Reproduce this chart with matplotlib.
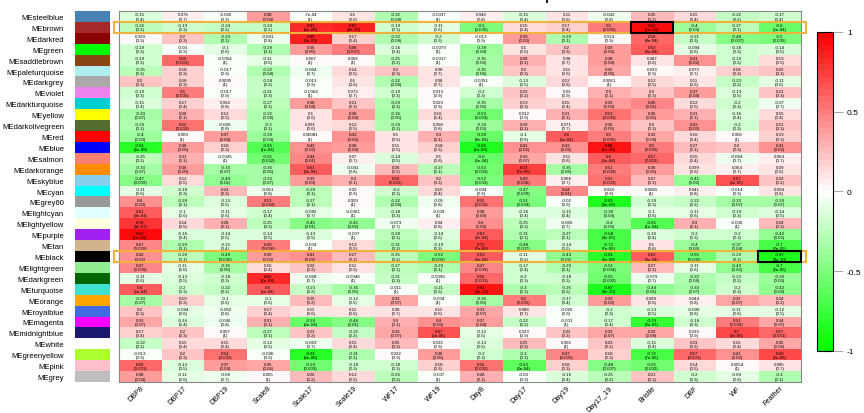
import numpy as np
import matplotlib
matplotlib.use('Agg')
import matplotlib.pyplot as plt
from matplotlib.colors import LinearSegmentedColormap
from matplotlib.patches import Rectangle
from math import lgamma

plt.rcParams['font.family'] = ['Liberation Sans', 'DejaVu Sans']

modules = ['steelblue', 'brown', 'darkred', 'green', 'saddlebrown', 'paleturquoise',
           'darkgrey', 'violet', 'darkturquoise', 'yellow', 'darkolivegreen', 'red',
           'blue', 'salmon', 'darkorange', 'skyblue', 'cyan', 'grey60', 'lightcyan',
           'lightyellow', 'purple', 'tan', 'black', 'lightgreen', 'darkgreen',
           'turquoise', 'orange', 'royalblue', 'magenta', 'midnightblue', 'white',
           'greenyellow', 'pink', 'grey']
# R colour names -> hex
module_hex = ['#4682B4', '#A52A2A', '#8B0000', '#00FF00', '#8B4513', '#AFEEEE',
              '#A9A9A9', '#EE82EE', '#00CED1', '#FFFF00', '#556B2F', '#FF0000',
              '#0000FF', '#FA8072', '#FF8C00', '#87CEEB', '#00FFFF', '#999999', '#E0FFFF',
              '#FFFFE0', '#A020F0', '#D2B48C', '#000000', '#90EE90', '#006400',
              '#40E0D0', '#FFA500', '#4169E1', '#FF00FF', '#191970', '#FFFFFF',
              '#ADFF2F', '#FFC0CB', '#BEBEBE']

traits = ['DBP8', 'DBP17', 'DBP19', 'Scale8', 'Scale17', 'Scale19', 'WF17', 'WF19',
          'Day8', 'Day17', 'Day19', 'Day17_19', 'Bristle', 'DBF', 'WF', 'Feather']

dbp8 = [-0.15, -0.26, 0.029, -0.19, -0.19, -0.25, 0.2, -0.19, -0.15, -0.33, -0.29, -0.4,
        -0.81, -0.25, -0.33, -0.47, -0.11, 0.4, 0.61, 0.78, 0.93, 0.47, 0.42, 0.47, -0.11,
        0.6, -0.33, 0.2, 0.33, 0.17, -0.22, -0.013, 0.56, 0.38]
dbp17 = [0.076, -0.19, 0.2, -0.03, 0.56, 0.18, 0.18, 0.5, 0.17, 0.28, 0.52, 0.009, 0.36,
         0.31, 0.36, 0.12, -0.18, -0.28, -0.1, 0.14, -0.16, -0.29, -0.28, -0.11, -0.13,
         -0.2, 0.19, -0.094, -0.16, 0.2, 0.15, 0.2, -0.13, -0.11]
dbp19 = [-0.026, -0.24, -0.29, -0.1, -0.0054, -0.017, 0.0035, -0.017, 0.054, 0.12, -0.049,
         0.37, 0.18, -0.0026, -0.33, -0.44, 0.24, -0.13, -0.11, 0.28, -0.14, -0.15, -0.49,
         -0.36, -0.18, -0.22, -0.1, -0.052, -0.046, 0.007, 0.15, 0.54, 0.37, -0.08]
scale8 = [0.38, -0.24, -0.041, -0.29, -0.11, -0.32, -0.24, -0.21, -0.27, -0.32, -0.3, -0.38,
          -0.65, -0.55, -0.36, -0.33, -0.051, 0.51, -0.17, -0.25, -0.14, 0.49, 0.39, 0.16,
          0.83, 0.6, -0.1, 0.17, 0.31, -0.27, -0.12, -0.036, 0.35, 0.005]
scale17 = [-0.0007, 0.81, 0.85, 0.36, 0.007, -0.064, -0.013, -0.0064, 0.38, 0.1, 0.091,
           0.00081, 0.42, 0.44, 0.61, 0.39, -0.28, -0.27, -0.082, -0.45, -0.13, -0.004, 0.41,
           0.22, -0.068, -0.23, 0.25, 0.11, -0.59, 0.23, -0.069, -0.81, -0.53, 0.26]
scale19 = [0.1, 0.87, 0.17, 0.48, 0.002, 0.14, 0.1, 0.072, 0.21, 0.38, 0.12, 0.43, 0.38,
           0.07, -0.041, 0.3, 0.02, 0.003, -0.0061, -0.41, -0.007, 0.13, 0.27, 0.11, -0.0046,
           -0.36, -0.12, 0.11, -0.46, -0.22, 0.15, -0.31, -0.18, 0.13]
wf17 = [-0.32, -0.19, -0.32, -0.16, -0.25, 0.2, -0.32, -0.19, -0.29, -0.36, -0.29, 0.1, 0.11,
        -0.14, 0.26, 0.56, -0.2, -0.32, -0.18, -0.073, -0.28, -0.31, -0.25, -0.27, -0.21,
        -0.011, 0.33, 0.08, 0.3, 0.33, 0.25, 0.022, -0.18, -0.26]
wf19 = [-0.0037, -0.11, -0.2, -0.0079, -0.0017, 0.08, 0.08, 0.013, 0.029, 0.16, 0.058, 0.3,
        0.18, 0.1, -0.27, 0.2, 0.15, -0.05, -0.009, 0.04, -0.14, -0.19, -0.52, -0.29, -0.0096,
        -0.21, -0.004, 0.11, 0.4, 0.67, 0.032, 0.36, 0.18, -0.007]
day8 = [0.046, -0.5, -0.013, -0.38, -0.35, -0.35, -0.0051, -0.2, -0.35, -0.53, -0.39, -0.58,
        -0.86, -0.6, -0.53, -0.52, -0.034, 0.55, 0.38, 0.4, 0.63, 0.72, 0.63, 0.47, 0.56, 0.91,
        -0.36, 0.33, 0.37, -0.12, -0.13, -0.2, 0.55, 0.28]
day17 = [-0.15, 0.15, 0.39, 0.1, 0.28, 0.2, -0.13, 0.23, 0.19, 0.012, 0.29, -0.1, 0.41, 0.33,
         0.72, 0.49, -0.47, -0.51, -0.16, -0.25, -0.31, -0.48, -0.11, -0.17, -0.2, -0.3, 0.5,
         0.086, -0.22, 0.023, 0.25, -0.3, -0.62, -0.03]
day19 = [0.11, 0.17, -0.29, 0.2, 0.08, 0.11, 0.12, 0.03, 0.15, 0.31, 0.071, 0.6, 0.43, 0.11,
         -0.35, 0.066, 0.44, -0.02, -0.15, -0.066, -0.27, -0.14, -0.43, -0.29, -0.18, -0.26,
         -0.17, -0.026, -0.001, 0.22, 0.003, 0.47, 0.18, -0.16]
day17_19 = [-0.043, 0.5, 0.014, 0.39, 0.38, 0.35, 0.0061, 0.3, 0.39, 0.53, 0.36, 0.5, 0.88,
            0.6, 0.51, 0.52, 0.024, -0.85, -0.38, -0.4, -0.68, -0.72, -0.81, -0.51, -0.55,
            -0.87, 0.39, -0.2, -0.17, 0.33, 0.23, 0.18, -0.48, -0.25]
bristle = [0.25, 0.93, 0.58, 0.62, 0.087, 0.033, 0.12, 0.2, 0.45, 0.36, 0.2, 0.32, 0.5, 0.57,
           0.36, 0.27, 0.0081, -0.19, -0.105, -0.65, -0.16, 0.1, 0.62, 0.27, -0.079, -0.44,
           0.099, -0.13, -0.79, 0.32, -0.15, -0.72, -0.55, 0.21]
dbf = [0.15, -0.4, -0.21, -0.094, 0.41, 0.073, 0.11, 0.37, 0.12, 0.31, 0.43, 0.16, 0.27, 0.15,
       0.099, -0.41, 0.041, -0.22, -0.11, 0.3, -0.2, -0.4, -0.55, -0.11, -0.32, -0.33, 0.044,
       -0.096, -0.18, 0.033, 0.23, 0.57, 0.14, -0.2]
wf = [-0.22, -0.27, -0.48, -0.18, -0.19, 0.18, -0.23, -0.13, -0.2, -0.16, -0.2, 0.006, 0.2,
      -0.064, 0.064, 0.67, -0.014, -0.33, -0.19, -0.006, -0.2, -0.37, -0.29, -0.43, -0.23,
      -0.2, 0.33, -0.11, 0.51, 0.7, 0.16, 0.41, 0.0054, -0.09]
feather = [-0.17, -0.6, -0.5, -0.14, 0.13, 0.22, -0.11, 0.21, -0.07, 0.15, 0.21, 0.19, 0.41,
           0.064, 0.09, 0.22, 0.094, -0.34, -0.14, 0.24, -0.42, -0.7, -0.87, -0.7, -0.39,
           -0.42, 0.24, -0.12, 0.34, 0.57, 0.35, 0.69, 0.085, -0.3]

n_samples = 30

cor = np.column_stack([dbp8, dbp17, dbp19, scale8, scale17, scale19, wf17, wf19, day8,
                       day17, day19, day17_19, bristle, dbf, wf, feather])


def cor_pvalue(r, n):
    # two-sided p-value of a Pearson correlation under the null
    grid = np.linspace(abs(r), 1, 4001)
    dens = (1 - grid ** 2) ** ((n - 4) / 2)
    beta = np.exp(lgamma(0.5) + lgamma((n - 2) / 2) - lgamma((n - 1) / 2))
    return min(1.0, 2 * np.trapezoid(dens, grid) / beta)


def r_signif(v, digits):
    # mimic R's as.character(signif(v, digits))
    v = float(f'{v:.{digits}g}')
    if v == 0:
        return '0'
    fixed = np.format_float_positional(v, trim='-')
    sci = np.format_float_scientific(v, trim='-', exp_digits=2)
    return fixed if len(fixed) <= len(sci) else sci


nrow, ncol = cor.shape

fig = plt.figure(figsize=(8.64, 4.14), dpi=100)

# heatmap
ax = fig.add_axes([0.1377, 0.0749, 0.7894, 0.8961])
cmap = LinearSegmentedColormap.from_list('gwr', ['#00FF00', '#FFFFFF', '#FF0000'], N=50)
im = ax.imshow(cor, cmap=cmap, vmin=-1, vmax=1, aspect='auto',
               extent=(0, ncol, nrow, 0), interpolation='nearest')
for i in range(nrow):
    for j in range(ncol):
        p = cor_pvalue(cor[i, j], n_samples)
        txt = r_signif(cor[i, j], 2) + '\n(' + r_signif(p, 1) + ')'
        ax.text(j + 0.5, i + 0.5, txt, ha='center', va='center', fontsize=3.2,
                linespacing=1.05, color='black')

ax.set_xlim(0, ncol)
ax.set_ylim(nrow, 0)
ax.set_xticks(np.arange(ncol) + 0.5)
ax.set_xticklabels(traits, rotation=45, ha='right', va='top', rotation_mode='anchor',
                   fontsize=5.2)
ax.tick_params(axis='x', length=0, pad=1.5)
ax.set_yticks([])
for s in ax.spines.values():
    s.set_color('#888888')
    s.set_linewidth(0.8)

# highlight rows and cells
for row in [1, 22]:
    ax.add_patch(Rectangle((-0.12, row), ncol + 0.24, 1, fill=False, ec='#F2B33D',
                           lw=1.5, clip_on=False, zorder=5))
for row, col in [(1, 12), (22, 15)]:
    ax.add_patch(Rectangle((col, row), 1, 1, fill=False, ec='black', lw=1.5,
                           clip_on=False, zorder=6))

# module colour swatches
sax = fig.add_axes([0.0868, 0.0749, 0.0394, 0.8961])
swatch = np.array([[matplotlib.colors.to_rgb(c)] for c in module_hex])
sax.imshow(swatch, aspect='auto', extent=(0, 1, nrow, 0), interpolation='nearest')
sax.set_xticks([])
sax.set_yticks(np.arange(nrow) + 0.5)
sax.set_yticklabels(['ME' + m for m in modules], fontsize=5.5)
sax.tick_params(axis='y', length=0, pad=8)
for s in sax.spines.values():
    s.set_visible(False)

# colour bar
cax = fig.add_axes([0.9456, 0.1498, 0.0185, 0.7705])
cb = fig.colorbar(im, cax=cax, ticks=[-1, -0.5, 0, 0.5, 1])
cb.ax.set_yticklabels(['-1', '-0.5', '0', '0.5', '1'])
cb.ax.tick_params(length=7, width=0.6, color='#999999', labelsize=6, pad=3)
cb.outline.set_linewidth(0.8)

# title sits at the top edge, partly cut off as in the source image
fig.text(0.56, 1.008, 'Module-trait relationships', ha='center', va='center',
         fontsize=9, fontweight='bold')

fig.savefig('out.png', dpi=100)
